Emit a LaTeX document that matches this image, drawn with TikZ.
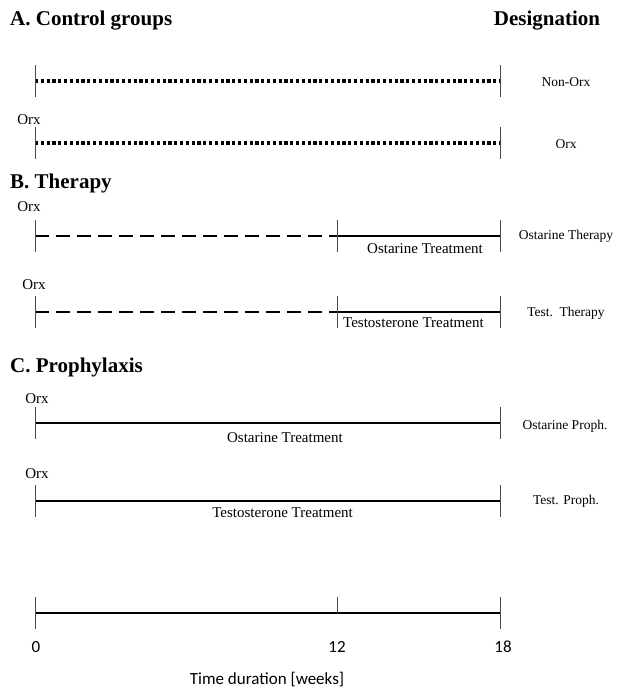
\documentclass[tikz,border=0pt]{standalone}
\usepackage{fontspec}
\setmainfont{Liberation Serif}
\newfontfamily\axisfont{Carlito}

\tikzset{
	tickmark/.style={black!70,line width=.8pt},
	dotline/.style={line width=3.3pt,dash pattern=on 3.2pt off 2.6pt},
	dashline/.style={line width=1.6pt,dash pattern=on 14pt off 7pt},
	treatline/.style={line width=1.6pt},
	head/.style={font=\fontsize{21}{25}\selectfont\bfseries,inner sep=0pt,anchor=west},
	lbl/.style={font=\fontsize{15}{18}\selectfont,inner sep=0pt},
	desig/.style={font=\fontsize{13.5}{16}\selectfont,inner sep=0pt},
	axnum/.style={font=\axisfont\fontsize{17}{20}\selectfont,inner sep=0pt}
}

\begin{document}
\begin{tikzpicture}[x=1pt,y=-1pt]
				\useasboundingbox (0,0) rectangle (617,691);

				\node[head] (headA) at (10,21) {A. Control groups};
				\node[head,anchor=center] (headD) at (547,21) {Designation};
				\node[head] (headB) at (10,183) {B. Therapy};
				\node[head] (headC) at (10,367) {C. Prophylaxis};

				\coordinate (s1) at (35,81);  \coordinate (e1) at (500,81);
				\coordinate (s2) at (35,143); \coordinate (e2) at (500,143);
				\coordinate (s3) at (35,236); \coordinate (m3) at (337,236); \coordinate (e3) at (500,236);
				\coordinate (s4) at (35,312); \coordinate (m4) at (337,312); \coordinate (e4) at (500,312);
				\coordinate (s5) at (35,423); \coordinate (e5) at (500,423);
				\coordinate (s6) at (35,501); \coordinate (e6) at (500,501);
				\coordinate (s7) at (35,613); \coordinate (m7) at (337,613); \coordinate (e7) at (500,613);

				\draw[dotline] (s1) -- (e1);
				\draw[dotline] (s2) -- (e2);
				\draw[dashline] (s3) -- (m3);
				\draw[treatline] (m3) -- (e3);
				\draw[dashline] (s4) -- (m4);
				\draw[treatline] (m4) -- (e4);
				\draw[treatline] (s5) -- (e5);
				\draw[treatline] (s6) -- (e6);
				\draw[treatline] (s7) -- (e7);

				\foreach \p in {s1,e1,s2,e2,s3,m3,e3,s4,m4,e4,s5,e5,s6,e6,s7,e7}
					\draw[tickmark] (\p) ++(0,-16) -- ++(0,32);
				\draw[tickmark] (m7) -- ++(0,-16);

				\node[lbl] (orx2) at (29,120) {Orx};
				\node[lbl] (orx3) at (29,207) {Orx};
				\node[lbl] (orx4) at (34,285) {Orx};
				\node[lbl] (orx5) at (37,399) {Orx};
				\node[lbl] (orx6) at (37,474) {Orx};

				\node[lbl,anchor=west] (ost3) at (367,249) {Ostarine Treatment};
				\node[lbl,anchor=west] (tes4) at (343,323) {Testosterone Treatment};
				\node[lbl,anchor=east] (ost5) at (343,438) {Ostarine Treatment};
				\node[lbl,anchor=east] (tes6) at (353,513) {Testosterone Treatment};

				\node[desig] (d1) at (566,82) {Non-Orx};
				\node[desig] (d2) at (566,144) {Orx};
				\node[desig] (d3) at (566,236) {Ostarine Therapy};
				\node[desig] (d4) at (566,313) {Test.\ \ Therapy};
				\node[desig] (d5) at (565,426) {Ostarine Proph.};
				\node[desig] (d6) at (566,501) {Test. Proph.};

				\node[axnum] (n0) at (36,647) {0};
				\node[axnum] (n12) at (337,647) {12};
				\node[axnum] (n18) at (503,647) {18};
				\node[axnum] (xlabel) at (267,680) {Time duration [weeks]};
			\end{tikzpicture}
\end{document}
